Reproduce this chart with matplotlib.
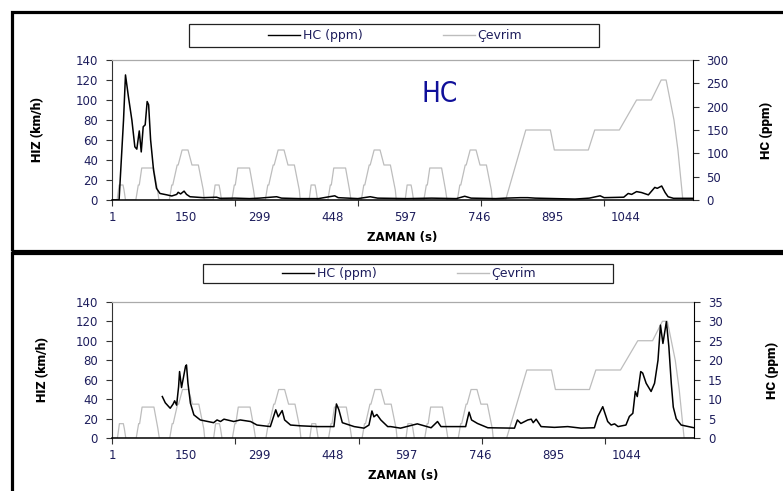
import matplotlib
matplotlib.use('Agg')
import matplotlib.pyplot as plt
from matplotlib.patches import Rectangle
from matplotlib.lines import Line2D

# Çevrim (NEDC speed, km/h) - breakpoints
cycle_t = [0, 11, 15, 23, 25, 28, 49, 54, 56, 61, 85, 93, 96, 117, 122, 124, 133, 135, 143, 155, 163, 176, 186, 188, 195,
           206, 210, 218, 220, 223, 244, 249, 251, 256, 280, 288, 291, 312, 317, 319, 328, 330, 338, 350, 358, 371, 381, 383, 390,
           401, 405, 413, 415, 418, 439, 444, 446, 451, 475, 483, 486, 507, 512, 514, 523, 525, 533, 545, 553, 566, 576, 578, 585,
           596, 600, 608, 610, 613, 634, 639, 641, 646, 670, 678, 681, 702, 707, 709, 718, 720, 728, 740, 748, 761, 771, 773, 780,
           800, 841, 891, 899, 968, 981, 1031, 1066, 1096, 1116, 1126, 1142, 1150, 1160, 1180]
cycle_v = [0, 0, 15, 15, 10, 0, 0, 15, 15, 32, 32, 10, 0, 0, 15, 15, 35, 35, 50, 50, 35, 35, 10, 0, 0,
           0, 15, 15, 10, 0, 0, 15, 15, 32, 32, 10, 0, 0, 15, 15, 35, 35, 50, 50, 35, 35, 10, 0, 0,
           0, 15, 15, 10, 0, 0, 15, 15, 32, 32, 10, 0, 0, 15, 15, 35, 35, 50, 50, 35, 35, 10, 0, 0,
           0, 15, 15, 10, 0, 0, 15, 15, 32, 32, 10, 0, 0, 15, 15, 35, 35, 50, 50, 35, 35, 10, 0, 0,
           0, 70, 70, 50, 50, 70, 70, 100, 100, 120, 120, 80, 50, 0, 0]

# HC (ppm), upper chart
hc1_t = [0, 15, 24, 28, 34, 41, 47, 51, 56, 60, 64, 68, 72, 75, 79, 85, 91, 98, 112, 122, 132, 135, 140, 147, 152,
         159, 186, 213, 220, 250, 280, 300, 335, 345, 380, 420, 453, 460, 500, 525, 540, 600, 650, 700, 717, 730,
         780, 800, 830, 845, 860, 900, 941, 970, 992, 1000, 1040, 1049, 1056, 1066, 1076, 1090, 1103, 1108, 1117,
         1124, 1130, 1141, 1180]
hc1 = [0, 0, 171, 268, 221, 171, 114, 109, 148, 103, 157, 161, 211, 204, 129, 64, 25, 14, 11, 8.6, 12, 16.5, 13, 19, 12,
       7, 5, 6, 3.6, 4, 3, 4, 7, 4, 3, 3, 9, 5, 3, 7, 4, 3, 4, 3, 8, 4,
       3, 4, 5, 5, 4, 3, 2, 4, 9, 5, 6, 14, 12, 18, 16, 11, 27, 25, 30,
       16, 7, 3.6, 3.6]

# HC (ppm), lower chart
hc2_t = [102, 108, 118, 124, 127, 131, 135, 137, 141, 149, 151, 154, 159, 166, 179, 206, 213, 220, 227, 247,
         260, 281, 294, 321, 332, 337, 345, 350, 362, 382, 416, 450, 455, 460, 467, 491, 511, 521, 527, 531,
         537, 545, 559, 565, 585, 619, 647, 660, 667, 717, 724, 729, 741, 762, 816, 822, 829, 843, 850, 854,
         860, 870, 897, 924, 951, 978, 985, 995, 1005, 1012, 1019, 1026, 1042, 1049, 1056, 1061, 1065, 1072,
         1076, 1083, 1093, 1100, 1107, 1112, 1117, 1124, 1129, 1134, 1138, 1144, 1154, 1180]
hc2 = [10.7, 9.1, 7.7, 8.8, 9.6, 8.5, 13.2, 17.1, 13, 18.4, 18.8, 14.1, 9, 6, 4.7, 4, 4.7, 4.3, 4.9, 4.3,
       4.7, 4.3, 3.4, 3, 7.3, 5.5, 7.1, 4.7, 3.4, 3.2, 3, 3, 8.8, 7.3, 4, 3, 2.6, 3.4, 7, 5.5,
       6.1, 4.7, 3, 3, 2.6, 3.7, 2.7, 4.3, 3, 3, 6.7, 4.7, 3.8, 2.7, 2.6, 4.7, 3.8, 4.7, 4.9, 4,
       4.9, 3, 2.8, 3, 2.6, 2.7, 5.6, 8.1, 4.3, 3.4, 3.7, 3, 3.4, 5.6, 6.4, 12, 10.7, 17.1,
       16.7, 14.1, 12, 14.1, 20, 29, 24.3, 29.9, 23.5, 14, 8, 5, 3.4, 2.7]

x_labels = [1, 150, 299, 448, 597, 746, 895, 1044]
x_marks = [0, 250, 500, 750, 1000]
hiz_ticks = [0, 20, 40, 60, 80, 100, 120, 140]
hc1_ticks = [0, 50, 100, 150, 200, 250, 300]
hc2_ticks = [0, 5, 10, 15, 20, 25, 30, 35]

W, H = 783, 491
NAVY = '#1d1d5c'
GRAY = '#bdbdbd'
fig = plt.figure(figsize=(W / 100, H / 100), dpi=100)


def fx(px):
    return px / W


def fy(py):
    return 1 - py / H


# narrow bold look of the axis titles
label_font = dict(family=['Roboto', 'DejaVu Sans'], fontweight='heavy', fontsize=9.5, fontstretch='condensed')


def panel(left, right, top, bottom, hc_t, hc, hc_ticks, hc_max, ylab_x, y2lab_x, xlab_y):
    ax = fig.add_axes([fx(left), fy(bottom), fx(right) - fx(left), fy(top) - fy(bottom)])
    ax.plot(cycle_t, cycle_v, color=GRAY, lw=0.9)
    ax.set_xlim(0, 1180)
    ax.set_ylim(0, 140)
    ax.set_yticks(hiz_ticks)
    ax.set_xticks(x_labels)
    ax.set_xticklabels([str(v) for v in x_labels])
    ax.set_xticks(x_marks, minor=True)
    ax.tick_params(axis='x', which='major', length=0, pad=8, labelsize=8.5, labelcolor=NAVY)
    ax.tick_params(axis='x', which='minor', length=4, width=0.8, direction='out', color='#333333')
    ax.tick_params(axis='y', length=4, width=0.8, direction='out', pad=6, labelsize=8.5,
                   labelcolor=NAVY, color='#333333')
    ax.spines['right'].set_visible(False)
    ax.spines['top'].set_color('#aaaaaa')
    ax.spines['top'].set_linewidth(0.9)
    ax.spines['left'].set_color('#333333')
    ax.spines['bottom'].set_color('black')
    ax.spines['bottom'].set_linewidth(1.1)

    ax2 = ax.twinx()
    ax2.plot(hc_t, hc, color='black', lw=1.1)
    ax2.set_ylim(0, hc_max)
    ax2.set_yticks(hc_ticks)
    ax2.tick_params(axis='y', length=4, width=0.8, direction='out', pad=6, labelsize=8.5,
                    labelcolor=NAVY, color='#333333')
    for s in ['top', 'left', 'bottom']:
        ax2.spines[s].set_visible(False)
    ax2.spines['right'].set_color('black')

    fig.text(fx(ylab_x), fy((top + bottom) / 2), 'HIZ (km/h)', rotation=90, ha='center', va='center', **label_font)
    fig.text(fx(y2lab_x), fy((top + bottom) / 2), 'HC (ppm)', rotation=90, ha='center', va='center', **label_font)
    fig.text(fx((left + right) / 2), fy(xlab_y), 'ZAMAN (s)', ha='center', va='center',
             fontsize=8.5, fontweight='bold')
    return ax, ax2


panel(111.7, 692.7, 60, 200, hc1_t, hc1, hc1_ticks, 300, 38, 766, 238)
panel(112, 694, 301.7, 438.3, hc2_t, hc2, hc2_ticks, 35, 43, 772, 476)

fig.text(fx(440), fy(94), 'HC', color='#10109a', fontsize=20, ha='center', va='center',
         family=['DejaVu Sans'], fontstretch='condensed')

# outer frames of the two panels
for (y0, y1) in [(11.5, 251), (253, 510)]:
    fig.patches.append(Rectangle((fx(11.5), fy(y1)), fx(810) - fx(11.5), fy(y0) - fy(y1),
                                 transform=fig.transFigure, fill=False, ec='black', lw=2.3))

# legend boxes
handles = [Line2D([], [], color='black', lw=1), Line2D([], [], color=GRAY, lw=1)]
for (x0, x1, y0, y1) in [(189, 599, 24, 47), (203, 613, 264, 283)]:
    fig.patches.append(Rectangle((fx(x0), fy(y1)), fx(x1) - fx(x0), fy(y0) - fy(y1),
                                 transform=fig.transFigure, fill=False, ec='#222222', lw=0.9))
    fig.legend(handles, ['HC (ppm)', 'Çevrim'], loc='center', bbox_to_anchor=(fx((x0 + x1) / 2 + 1), fy((y0 + y1) / 2)),
               ncol=2, frameon=False, fontsize=9, handlelength=2.6, handletextpad=0.2,
               columnspacing=6.4, labelcolor=NAVY, borderpad=0)

fig.savefig('out.png', dpi=100)
